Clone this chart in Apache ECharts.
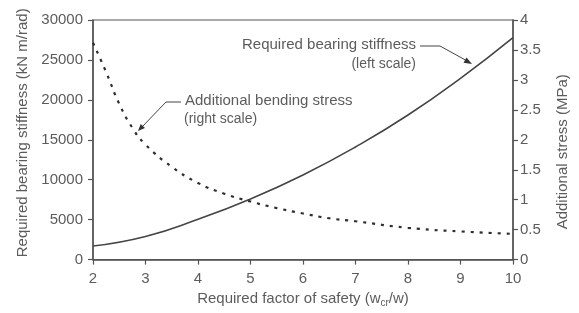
<!DOCTYPE html>
<html>
<head>
<meta charset="utf-8">
<script src="https://cdn.jsdelivr.net/npm/echarts@6/dist/echarts.min.js"></script>
<style>html,body{margin:0;padding:0;background:#fff}#c{width:579px;height:313px}</style>
</head>
<body>
<div id="c"></div>
<script>
// Data
const xTicks = [2, 3, 4, 5, 6, 7, 8, 9, 10];
const xStiffness = [2, 3, 4, 5, 6, 7, 8, 9, 10];
const stiffness = [1700, 2900, 5050, 7600, 10600, 14100, 18100, 22700, 27800];
const xStress = [2, 2.25, 2.5, 2.75, 3, 3.5, 4, 4.5, 5, 5.5, 6, 6.5, 7, 8, 9, 10];
const stress = [3.62, 3.13, 2.6, 2.2, 1.92, 1.55, 1.28, 1.10, 0.97, 0.86, 0.77, 0.69, 0.64, 0.53, 0.47, 0.43];
const leftName = 'Required bearing stiffness (kN m/rad)';
const rightName = 'Additional stress (MPa)';
const stiffLabel = ['Required bearing stiffness', '(left scale)'];
const stressLabel = ['Additional bending stress', '(right scale)'];

const FONT = 'Liberation Sans';
const TXT = '#5c5c5c';
const AX = '#555';

const chart = echarts.init(document.getElementById('c'), null, {renderer: 'canvas'});
const axisCommon = {
  axisLine: {show: true, lineStyle: {color: AX, width: 1.5}},
  axisTick: {show: true, length: 5, lineStyle: {color: AX, width: 1.2}},
  splitLine: {show: false},
};
chart.setOption({
  animation: false,
  backgroundColor: '#fff',
  grid: {left: 93, right: 66, top: 20, bottom: 51, show: true, borderColor: AX, borderWidth: 1.2},
  xAxis: Object.assign({
    type: 'value', min: 2, max: 10, interval: 1,
    name: 'Required factor of safety (w{s|cr}/w)',
    nameLocation: 'middle', nameGap: 28,
    nameTextStyle: {color: TXT, fontFamily: FONT, fontSize: 15, rich: {s: {fontSize: 10, verticalAlign: 'bottom', padding: [8, 0, 0, 0], color: TXT, fontFamily: FONT}}},
    axisLabel: {color: TXT, fontFamily: FONT, fontSize: 15, margin: 12}
  }, axisCommon),
  yAxis: [
    Object.assign({
      type: 'value', min: 0, max: 30000, interval: 5000, position: 'left',
      name: leftName, nameLocation: 'middle', nameGap: 62, nameRotate: 90,
      nameTextStyle: {color: TXT, fontFamily: FONT, fontSize: 15, padding: [0, 0, 0, 14]},
      axisLabel: {color: TXT, fontFamily: FONT, fontSize: 15, margin: 10, formatter: v => String(v)}
    }, axisCommon),
    Object.assign({
      type: 'value', min: 0, max: 4, interval: 0.5, position: 'right',
      name: rightName, nameLocation: 'middle', nameGap: 42, nameRotate: 90,
      nameTextStyle: {color: TXT, fontFamily: FONT, fontSize: 15, padding: [0, 24, 0, 0]},
      axisLabel: {color: TXT, fontFamily: FONT, fontSize: 15, margin: 7}
    }, axisCommon)
  ],
  series: [
    {
      type: 'line', yAxisIndex: 0, smooth: true, symbol: 'none',
      data: xStiffness.map((x, i) => [x, stiffness[i]]),
      lineStyle: {color: '#444', width: 1.6}
    },
    {
      type: 'line', yAxisIndex: 1, smooth: true, symbol: 'none',
      data: xStress.map((x, i) => [x, stress[i]]),
      lineStyle: {color: '#2e2e2e', width: 2.2, type: [3, 6]}
    }
  ],
  graphic: [
    {type: 'text', x: 416, y: 45, style: {text: stiffLabel[0], fill: TXT, font: '15px "' + FONT + '"', align: 'right', verticalAlign: 'middle'}},
    {type: 'text', x: 416, y: 64, style: {text: stiffLabel[1], fill: TXT, font: '14px "' + FONT + '"', align: 'right', verticalAlign: 'middle'}},
    {type: 'polyline', shape: {points: [[420, 46], [440, 46], [469, 62]]}, style: {stroke: '#444', lineWidth: 1, fill: null}},
    {type: 'polygon', shape: {points: [[472, 64], [463.5, 62.7], [466.5, 57.5]]}, style: {fill: '#333'}},
    {type: 'text', x: 185, y: 101, style: {text: stressLabel[0], fill: TXT, font: '15px "' + FONT + '"', align: 'left', verticalAlign: 'middle'}},
    {type: 'text', x: 184, y: 119, style: {text: stressLabel[1], fill: TXT, font: '14px "' + FONT + '"', align: 'left', verticalAlign: 'middle'}},
    {type: 'polyline', shape: {points: [[181, 102], [166, 102], [141, 128]]}, style: {stroke: '#444', lineWidth: 1, fill: null}},
    {type: 'polygon', shape: {points: [[138, 131], [145, 128.1], [140.7, 123.9]]}, style: {fill: '#333'}}
  ]
});
</script>
</body>
</html>
